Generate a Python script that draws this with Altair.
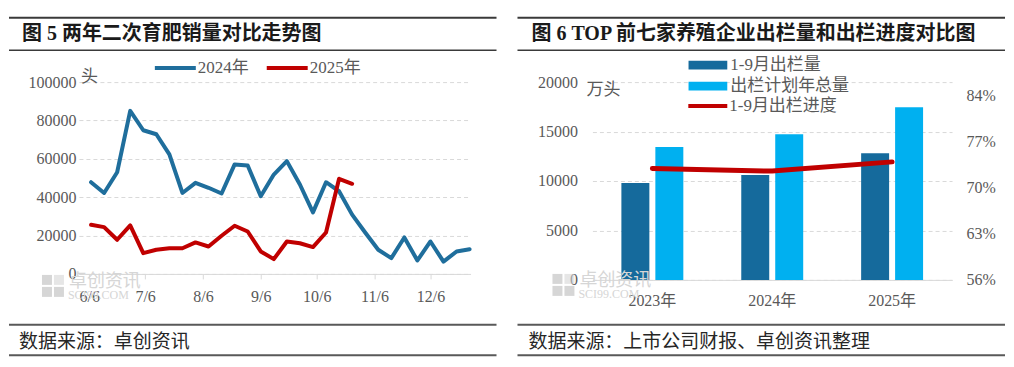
import altair as alt
import pandas as pd

# ---------------- data (left chart) ----------------
weeks = [
    "2024-06-07", "2024-06-14", "2024-06-21", "2024-06-28", "2024-07-05",
    "2024-07-12", "2024-07-19", "2024-07-26", "2024-08-02", "2024-08-09",
    "2024-08-16", "2024-08-23", "2024-08-30", "2024-09-06", "2024-09-13",
    "2024-09-20", "2024-09-27", "2024-10-04", "2024-10-11", "2024-10-18",
    "2024-10-25", "2024-11-01", "2024-11-08", "2024-11-15", "2024-11-22",
    "2024-11-29", "2024-12-06", "2024-12-13", "2024-12-20", "2024-12-27",
]
sales_2024 = [47800, 42200, 53000, 85000, 74900, 72800, 62300, 42200, 47500, 44900,
              41900, 57100, 56500, 40500, 51800, 58800, 46600, 32100, 47800, 43100,
              30900, 21600, 12600, 8200, 19000, 7000, 16900, 6400, 11700, 12900]
sales_2025 = [25600, 24400, 17800, 25300, 10800, 12600, 13400, 13400, 16400, 14300,
              19900, 25100, 22100, 11700, 7700, 16900, 16000, 14000, 21600, 49600,
              47000]
series_names = ["2024年", "2025年"]
tick_months = [6, 7, 8, 9, 10, 11, 12]
left_y_ticks = [0, 20000, 40000, 60000, 80000, 100000]

# ---------------- data (right chart) ----------------
years = ["2023年", "2024年", "2025年"]
out_jan_sep = [9800, 10600, 12800]
out_plan = [13450, 14720, 17450]
progress = [0.729, 0.725, 0.739]
bar_names = ["1-9月出栏量", "出栏计划年总量"]
line_name = "1-9月出栏进度"
right_y_ticks = [0, 5000, 10000, 15000, 20000]
pct_ticks = [0.56, 0.63, 0.70, 0.77, 0.84]

FONT_NUM = "Liberation Serif, Noto Sans CJK SC"
FONT_CJK = "Noto Sans CJK SC"
GRAY = "#595959"
GRID = "#d9d9d9"
BLUE_LINE = "#1F6E9C"
RED = "#C00000"
DARK_BAR = "#156A9C"
LIGHT_BAR = "#00B0F0"
WM = "#d6d6d6"

rows = []
for d, v in zip(weeks, sales_2024):
    rows.append({"date": d + "T00:00:00", "series": series_names[0], "value": v})
for d, v in zip(weeks, sales_2025):
    rows.append({"date": d + "T00:00:00", "series": series_names[1], "value": v})
left_df = pd.DataFrame(rows)

bar_rows = []
for y, a, b in zip(years, out_jan_sep, out_plan):
    bar_rows.append({"year": y, "item": bar_names[0], "value": a})
    bar_rows.append({"year": y, "item": bar_names[1], "value": b})
bar_df = pd.DataFrame(bar_rows)
prog_df = pd.DataFrame({"year": years, "progress": progress, "name": [line_name] * len(years)})

one = pd.DataFrame({"a": [0]})


def rule(x1, x2, y, width=2, color="#404040"):
    return alt.Chart(one).mark_rule(strokeWidth=width, color=color).encode(
        x=alt.value(x1), x2=alt.value(x2), y=alt.value(y))


def text(t, x, y, size=17, weight="normal", color=GRAY, font=FONT_NUM, opacity=1.0):
    return alt.Chart(one).mark_text(text=t, align="left", baseline="middle", fontSize=size,
                                    fontWeight=weight, color=color, font=font,
                                    opacity=opacity).encode(x=alt.value(x), y=alt.value(y))


def rect(x1, x2, y1, y2, color=WM, opacity=1.0):
    return alt.Chart(one).mark_rect(color=color, opacity=opacity).encode(
        x=alt.value(x1), x2=alt.value(x2), y=alt.value(y1), y2=alt.value(y2))


def watermark(x0, y0):
    parts = [
        rect(x0, x0 + 10, y0, y0 + 10),
        rect(x0 + 12, x0 + 22, y0, y0 + 10, opacity=0.6),
        rect(x0, x0 + 10, y0 + 12, y0 + 22),
        rect(x0 + 12, x0 + 22, y0 + 12, y0 + 22),
        text("卓创资讯", x0 + 27, y0 + 7, size=18, color=WM, font=FONT_CJK),
        text("SCI99.COM", x0 + 26, y0 + 20, size=12, color=WM, font="Liberation Serif"),
    ]
    return parts


# ---------------- left panel ----------------
LW, LH = 392, 192

lines = alt.Chart(left_df).mark_line(strokeWidth=4, strokeCap="round", strokeJoin="round").encode(
    x=alt.X("date:T",
            scale=alt.Scale(domain=[alt.DateTime(year=2024, month=5, date=31, hours=12),
                                    alt.DateTime(year=2024, month=12, date=27, hours=12)]),
            axis=alt.Axis(values=[alt.DateTime(year=2024, month=m, date=6) for m in tick_months],
                          format="%-m/%-d", title=None, grid=False, domainColor=GRID,
                          tickColor=GRID, tickSize=5, labelFont=FONT_NUM, labelFontSize=16,
                          labelColor=GRAY, labelPadding=10, labelFlush=False)),
    y=alt.Y("value:Q", scale=alt.Scale(domain=[0, 100000]),
            axis=alt.Axis(values=left_y_ticks, format="d", title=None, grid=True,
                          gridDash=[4, 3], gridColor=GRID, domain=False, ticks=False,
                          labelPadding=3, labelFont=FONT_NUM, labelFontSize=16,
                          labelColor=GRAY)),
    color=alt.Color("series:N", sort=series_names,
                    scale=alt.Scale(domain=series_names, range=[BLUE_LINE, RED]),
                    legend=alt.Legend(orient="none", legendX=74, legendY=-22,
                                      direction="horizontal", title=None, symbolType="stroke",
                                      symbolSize=1681, symbolStrokeWidth=4, labelFont=FONT_NUM,
                                      labelFontSize=17, labelColor=GRAY, labelOffset=0,
                                      columnPadding=16, clipHeight=16, padding=0)),
    detail="series:N",
)

left_layers = [lines]
left_layers += watermark(-37, 193)
left_layers += [
    text("头", 2, -5, size=17, font=FONT_CJK),
    rect(-70, -66, -74, -72, color="#ffffff", opacity=0),
    rule(-70, 418, -64.5, width=2, color="#3a3a3a"),
    rule(-70, 418, -32, width=1.5, color="#3a3a3a"),
    text("图 5 两年二次育肥销量对比走势图", -57, -48, size=20, weight="bold",
         color="#1a1a1a"),
    rule(-70, 418, 243, width=2, color="#595959"),
    rule(-70, 418, 273.5, width=2, color="#595959"),
    text("数据来源：卓创资讯", -60, 260, size=19, color="#262626", font=FONT_CJK),
]
left = alt.layer(*left_layers).properties(width=LW, height=LH)

# ---------------- right panel ----------------
RW, RH = 360, 198

bars = alt.Chart(bar_df).mark_bar().encode(
    x=alt.X("year:N", sort=years,
            scale=alt.Scale(paddingInner=0.4833, paddingOuter=0.2417),
            axis=alt.Axis(title=None, labelAngle=0, ticks=False, domainColor=GRID,
                          labelFont=FONT_NUM, labelFontSize=16, labelColor=GRAY,
                          labelPadding=13)),
    xOffset=alt.XOffset("item:N", sort=bar_names,
                        scale=alt.Scale(paddingInner=0.1765, paddingOuter=0)),
    y=alt.Y("value:Q", scale=alt.Scale(domain=[0, 20000]),
            axis=alt.Axis(values=right_y_ticks, format="d", title=None, grid=True,
                          gridDash=[4, 3], gridColor=GRID, domain=False, ticks=False,
                          labelPadding=15, labelFont=FONT_NUM, labelFontSize=16,
                          labelColor=GRAY)),
    color=alt.Color("item:N", sort=bar_names,
                    scale=alt.Scale(domain=bar_names, range=[DARK_BAR, LIGHT_BAR]),
                    legend=alt.Legend(orient="none", legendX=96, legendY=-27, title=None,
                                      symbolType="M-1,-0.22H1V0.22H-1Z", symbolSize=1521,
                                      symbolStrokeWidth=0, clipHeight=20, rowPadding=1,
                                      labelOffset=3, labelFont=FONT_NUM, labelFontSize=17,
                                      labelColor=GRAY, padding=0)),
)

prog_line = alt.Chart(prog_df).mark_line(strokeWidth=5, strokeCap="round").encode(
    x=alt.X("year:N", sort=years),
    y=alt.Y("progress:Q", scale=alt.Scale(domain=[0.56, 0.86]),
            axis=alt.Axis(orient="right", values=pct_ticks, format=".0%", title=None,
                          grid=False, domain=False, ticks=False, labelPadding=14,
                          labelFont=FONT_NUM, labelFontSize=16, labelColor=GRAY)),
    stroke=alt.Stroke("name:N", scale=alt.Scale(domain=[line_name], range=[RED]),
                      legend=alt.Legend(orient="none", legendX=94, legendY=14, title=None,
                                        symbolType="stroke", symbolSize=1521,
                                        symbolStrokeWidth=4, clipHeight=20, labelOffset=0,
                                        labelFont=FONT_NUM, labelFontSize=17,
                                        labelColor=GRAY, padding=0)),
)

right_layers = [bars, prog_line]
right_layers += watermark(-40, 192)
right_layers += [
    text("万头", -6, 8, size=17, font=FONT_CJK),
    rule(-75, 413, -64.5, width=2, color="#3a3a3a"),
    rule(-75, 413, -32, width=1.5, color="#3a3a3a"),
    text("图 6 TOP 前七家养殖企业出栏量和出栏进度对比图", -61, -48, size=20,
         weight="bold", color="#1a1a1a"),
    rule(-75, 413, 243, width=2, color="#595959"),
    rule(-75, 413, 273.5, width=2, color="#595959"),
    text("数据来源：上市公司财报、卓创资讯整理", -64, 260, size=19, color="#262626",
         font=FONT_CJK),
]
right = alt.layer(*right_layers).resolve_scale(y="independent").properties(width=RW, height=RH)

chart = alt.hconcat(left, right, spacing=122, bounds="flush").resolve_scale(
    color="independent", stroke="independent").resolve_legend(
    color="independent", stroke="independent").properties(padding=0).configure_view(stroke=None)

chart.save("out.html", embed_options={"renderer": "svg", "actions": False})
